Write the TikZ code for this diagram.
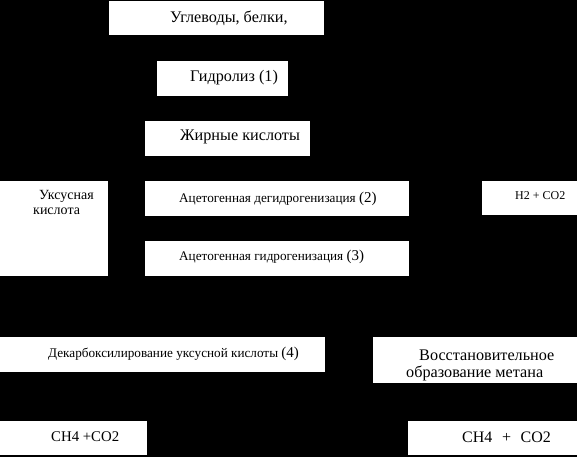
\documentclass[tikz,border=0pt]{standalone}
\usepackage{fontspec}
\setmainfont{Liberation Serif}
\begin{document}
\begin{tikzpicture}[x=1pt,y=-1pt,
  box/.style={fill=white,draw=none},
  lbl/.style={anchor=west,inner sep=0pt,text=black},
  big/.style={font=\fontsize{16.2}{18}\selectfont},
  mid/.style={font=\fontsize{14.8}{16}\selectfont},
  sml/.style={font=\fontsize{13.2}{15}\selectfont},
  tiny/.style={font=\fontsize{12}{14}\selectfont}]
\fill[black] (0,0) rectangle (577,457);
\useasboundingbox (0,0) rectangle (577,457);
% boxes
\fill[box] (109,1) rectangle (324,35);
\fill[box] (157,61) rectangle (288,96);
\fill[box] (145,121) rectangle (310,156);
\fill[box] (0,181) rectangle (108,276);
\fill[box] (145,181) rectangle (409,216);
\fill[box] (145,241) rectangle (409,276);
\fill[box] (482,181) rectangle (577,215);
\fill[box] (0,337) rectangle (325,372);
\fill[box] (373,337) rectangle (577,383);
\fill[box] (0,421) rectangle (147,455);
\fill[box] (408,421) rectangle (577,455);
% texts
\node[lbl,big] (t1) at (170,18) {Углеводы, белки,};
\node[lbl,big] (t2) at (190,78) {Гидролиз (1)};
\node[lbl,big] (t3) at (180,137) {Жирные кислоты};
\node[lbl,font=\fontsize{14}{16}\selectfont] (t4a) at (39,196) {Уксусная};
\node[lbl,font=\fontsize{14}{16}\selectfont] (t4b) at (33,211) {кислота};
\node[lbl,sml] (t5) at (179,199) {Ацетогенная дегидрогенизация {\fontsize{15}{16}\selectfont(2)}};
\node[lbl,sml] (t6) at (179,257) {Ацетогенная гидрогенизация {\fontsize{15}{16}\selectfont(3)}};
\node[lbl,tiny] (t7) at (515,196) {H2 + CO2};
\node[lbl,sml] (t8) at (48,354) {Декарбоксилирование уксусной кислоты {\fontsize{15}{16}\selectfont(4)}};
\node[lbl,big] (t9a) at (419,355) {Восстановительное};
\node[lbl,big] (t9b) at (406,373) {образование метана};
\node[lbl,mid] (t10) at (51,437) {CH4 +CO2};
\node[lbl,font=\fontsize{16}{18}\selectfont] (t11) at (462,437) {CH4\hspace{0.6em}+\hspace{0.6em}CO2};
\end{tikzpicture}
\end{document}
